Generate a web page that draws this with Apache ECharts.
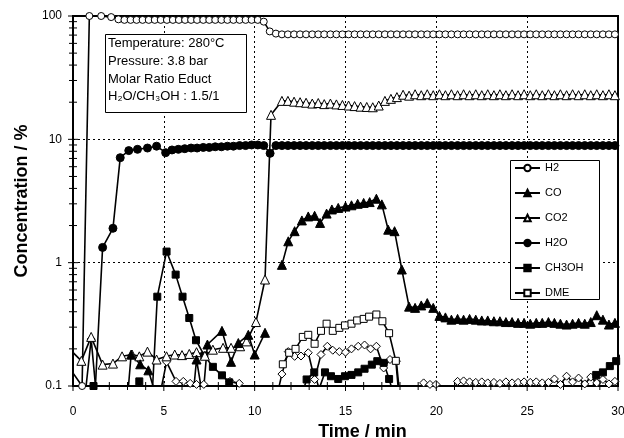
<!DOCTYPE html>
<html>
<head>
<meta charset="utf-8">
<script src="https://cdn.jsdelivr.net/npm/echarts@6/dist/echarts.min.js"></script>
<style>
  html, body { margin: 0; padding: 0; background: #fff; }
  #main { width: 624px; height: 438px; }
</style>
</head>
<body>
<div id="main"></div>
<script>
const FONT = '"Liberation Sans", Arial, sans-serif'

// legend names and the annotation text
const legendNames = ['H2', 'CO', 'CO2', 'H2O', 'CH3OH', 'DME']
const noteLines = ['Temperature: 280°C', 'Pressure: 3.8 bar', 'Molar Ratio Educt', 'H₂O/CH₃OH : 1.5/1']

// tick values
const xTicks = [0, 1, 2, 3, 4, 5, 6, 7, 8, 9, 10, 11, 12, 13, 14, 15, 16, 17, 18, 19, 20, 21, 22, 23, 24, 25, 26, 27, 28, 29, 30]
const yMajor = [0.1, 1, 10, 100]
const yMinor = [0.2, 0.3, 0.4, 0.5, 0.6, 0.7, 0.8, 0.9, 2, 3, 4, 5, 6, 7, 8, 9, 20, 30, 40, 50, 60, 70, 80, 90]

// sampling times of the steady part (min)
const tLate = [11.17, 11.5, 11.83, 12.17, 12.5, 12.83, 13.17, 13.5, 13.83, 14.17, 14.5, 14.83, 15.17, 15.5, 15.83,
  16.17, 16.5, 16.83, 17.17, 17.5, 17.83, 18.17, 18.5, 18.83, 19.17, 19.5, 19.83, 20.17, 20.5, 20.83, 21.17, 21.5,
  21.83, 22.17, 22.5, 22.83, 23.17, 23.5, 23.83, 24.17, 24.5, 24.83, 25.17, 25.5, 25.83, 26.17, 26.5, 26.83, 27.17,
  27.5, 27.83, 28.17, 28.5, 28.83, 29.17, 29.5, 29.83]

// [time, concentration]; values < 0.1 run off the bottom, null breaks the line
const h2Early = [[-0.2, 0.14], [0.5, 0.1], [0.9, 100], [1.55, 100], [2.1, 98], [2.5, 94], [2.83, 93], [3.17, 93],
  [3.5, 93], [3.83, 93], [4.17, 93], [4.5, 93], [4.83, 93], [5.17, 93], [5.5, 93], [5.83, 93], [6.17, 93], [6.5, 93],
  [6.83, 93], [7.17, 93], [7.5, 93], [7.83, 93], [8.17, 93], [8.5, 93], [8.83, 93], [9.17, 93], [9.5, 93], [9.83, 93],
  [10.17, 93], [10.5, 90], [10.83, 75]]
const h2Late = [72, 71, 71, 71, 71, 71, 71, 71, 71, 71, 71, 71, 71, 71, 71, 71, 71, 71, 71, 71, 71, 71, 71, 71, 71,
  71, 71, 71, 71, 71, 71, 71, 71, 71, 71, 71, 71, 71, 71, 71, 71, 71, 71, 71, 71, 71, 71, 71, 71, 71, 71, 71, 71, 71,
  71, 71, 71]

const h2oEarly = [[1.2, 0.08], [1.63, 1.33], [2.2, 1.9], [2.6, 7.1], [3.07, 8.1], [3.55, 8.3], [4.1, 8.5], [4.6, 8.8],
  [5.1, 7.8], [5.45, 8.2], [5.8, 8.3], [6.15, 8.4], [6.5, 8.5], [6.83, 8.5], [7.17, 8.6], [7.5, 8.6], [7.83, 8.7],
  [8.17, 8.7], [8.5, 8.8], [8.83, 8.8], [9.17, 8.9], [9.5, 8.9], [9.83, 9.0], [10.17, 9.0], [10.5, 8.9], [10.85, 7.7]]
const h2oLate = [8.9, 8.9, 8.9, 8.9, 8.9, 8.9, 8.9, 8.9, 8.9, 8.9, 8.9, 8.9, 8.9, 8.9, 8.9, 8.9, 8.9, 8.9, 8.9, 8.9,
  8.9, 8.9, 8.9, 8.9, 8.9, 8.9, 8.9, 8.9, 8.9, 8.9, 8.9, 8.9, 8.9, 8.9, 8.9, 8.9, 8.9, 8.9, 8.9, 8.9, 8.9, 8.9, 8.9,
  8.9, 8.9, 8.9, 8.9, 8.9, 8.9, 8.9, 8.9, 8.9, 8.9, 8.9, 8.9, 8.9, 8.9]

const co2Early = [[-0.2, 0.2], [0.46, 0.16], [1.0, 0.25], [1.63, 0.149], [2.2, 0.152], [2.7, 0.174], [3.25, 0.18],
  [3.65, 0.174], [4.1, 0.19], [4.6, 0.164], [5.15, 0.174], [5.6, 0.18], [6.0, 0.178], [6.4, 0.182], [6.8, 0.188],
  [7.26, 0.176], [7.7, 0.197], [8.26, 0.204], [8.7, 0.204], [9.2, 0.21], [9.55, 0.23], [10.07, 0.33], [10.57, 0.73],
  [10.9, 15.8]]
const co2Late = [20.5, 20.5, 20.2, 20, 19.8, 19.5, 19.7, 19.3, 19.5, 19.2, 19, 18.8, 18.6, 18.4, 18.3, 18.2, 18.8,
  20.5, 21.3, 22, 23, 22.6, 23.2, 22.8, 23.2, 22.8, 23.2, 22.8, 23.2, 22.8, 23.2, 22.8, 23.2, 22.8, 23.2, 22.8, 23.2,
  22.8, 23.2, 22.8, 23.2, 22.8, 23.2, 22.8, 23.2, 22.8, 23.2, 22.8, 23.2, 22.8, 23.2, 22.8, 23.2, 22.8, 23.2, 22.8]

const coEarly = [[3.0, 0.08], [3.2, 0.18], [3.7, 0.15], [4.15, 0.134], [4.6, 0.08], [5.5, null],
  [6.6, 0.08], [6.8, 0.164], [7.15, 0.08], [7.4, 0.217], [8.2, 0.28], [8.7, 0.157], [9.1, 0.223], [9.65, 0.26],
  [10.0, 0.18], [10.57, 0.27], [11.0, null],
  [11.5, 0.96], [11.85, 1.49], [12.2, 1.8], [12.6, 2.2], [12.95, 2.37], [13.3, 2.4], [13.6, 2.1], [13.96, 2.5],
  [14.25, 2.7], [14.6, 2.78], [15.0, 2.85], [15.33, 2.92], [15.67, 3.0], [16.0, 3.05], [16.33, 3.1], [16.7, 3.3],
  [17.0, 2.97], [17.35, 1.85], [17.7, 1.8], [18.1, 0.88], [18.5, 0.44], [18.83, 0.43], [19.17, 0.45], [19.5, 0.47],
  [19.83, 0.43]]
const coLate = [0.37, 0.36, 0.345, 0.35, 0.345, 0.35, 0.345, 0.34, 0.34, 0.335, 0.335, 0.33, 0.33, 0.325, 0.325, 0.32,
  0.325, 0.325, 0.33, 0.325, 0.32, 0.315, 0.32, 0.325, 0.32, 0.33, 0.375, 0.345, 0.315, 0.325]

const ch3oh = [[0.9, 0.08], [1.13, 0.1], [1.35, 0.08], [2, null],
  [3.4, 0.08], [3.65, 0.109], [3.9, 0.08], [4.1, null],
  [4.35, 0.08], [4.64, 0.53], [5.15, 1.23], [5.65, 0.8], [6.03, 0.53], [6.4, 0.356], [6.77, 0.235], [7.23, 0.176],
  [7.7, 0.143], [8.2, 0.122], [8.6, 0.107], [8.9, 0.08], [10, null],
  [12.55, 0.08], [12.86, 0.113], [13.28, 0.129], [13.55, 0.095], [13.87, 0.129], [14.2, 0.12], [14.6, 0.114],
  [14.97, 0.12], [15.33, 0.123], [15.7, 0.129], [16.05, 0.138], [16.45, 0.149], [16.75, 0.159], [17.1, 0.154],
  [17.4, 0.114], [17.7, 0.08], [20, null],
  [28.45, 0.08], [28.8, 0.123], [29.17, 0.129], [29.55, 0.145], [29.9, 0.159], [30.25, 0.19]]

const dme = [[11.55, 0.15], [11.9, 0.186], [12.25, 0.2], [12.65, 0.25], [12.95, 0.26], [13.3, 0.22], [13.65, 0.28],
  [13.96, 0.32], [14.3, 0.28], [14.66, 0.296], [14.97, 0.31], [15.33, 0.32], [15.64, 0.34], [16.0, 0.35],
  [16.3, 0.365], [16.7, 0.38], [17.03, 0.335], [17.4, 0.268], [17.77, 0.16], [17.95, 0.08]]

// open diamonds, not in the legend
const diaEarly = [[0.65, 0.08], [1.0, 0.24], [1.3, 0.08], [2, null],
  [4.75, 0.08], [5.15, 0.157], [5.67, 0.109], [6.07, 0.109], [6.45, 0.105], [6.8, 0.103], [7.2, 0.103], [7.45, 0.08],
  [8, null],
  [8.3, 0.08], [8.64, 0.109], [9.15, 0.105], [9.6, 0.08], [10, null],
  [11.2, 0.08], [11.5, 0.125], [11.85, 0.19], [12.2, 0.174], [12.55, 0.175], [12.95, 0.186], [13.3, 0.113],
  [13.65, 0.18], [14.0, 0.21], [14.3, 0.195], [14.66, 0.19], [15.0, 0.188], [15.33, 0.2], [15.7, 0.21],
  [16.05, 0.215], [16.38, 0.2], [16.7, 0.21], [17.1, 0.14], [17.45, 0.164], [17.8, 0.159], [18.0, 0.08], [18.5, null],
  [18.95, 0.08], [19.3, 0.106], [19.65, 0.103], [19.98, 0.103], [20.25, 0.08], [20.5, null],
  [20.85, 0.08]]
const diaLate = [0.109, 0.11, 0.108, 0.107, 0.108, 0.106, 0.107, 0.105, 0.108, 0.106, 0.107, 0.108, 0.107, 0.108,
  0.106, 0.107, 0.114, 0.103, 0.12, 0.108, 0.116, 0.104, 0.118, 0.106, 0.113, 0.104, 0.109]

const zip = (ts, vs) => vs.map((v, i) => [ts[i], v])

const h2 = h2Early.concat(zip(tLate, h2Late))
const h2o = h2oEarly.concat(zip(tLate, h2oLate))
const co2 = co2Early.concat(zip(tLate.slice(1), co2Late))
const co = coEarly.concat(zip(tLate.slice(27), coLate))
const diamond = diaEarly.concat(zip(tLate.slice(30), diaLate))

function lineSeries(name, data, symbol, size, filled) {
  return {
    name: name,
    type: 'line',
    data: data,
    symbol: symbol,
    symbolSize: size,
    connectNulls: false,
    lineStyle: { color: '#000', width: 1.6 },
    itemStyle: { color: filled ? '#000' : '#fff', borderColor: '#000', borderWidth: 1 },
    emphasis: { disabled: true }
  }
}

// crossing tick marks on both axes
let tickData = []
yMajor.forEach(v => tickData.push([0, v, 0, 5]))
yMinor.forEach(v => tickData.push([0, v, 0, 4]))
xTicks.forEach(v => tickData.push([v, 0.1, 1, v % 5 === 0 ? 5 : 4]))

const myChart = echarts.init(document.getElementById('main'))
let option = {
  animation: false,
  textStyle: { fontFamily: FONT },
  grid: {
    left: 73, right: 6, top: 16, bottom: 52,
    outerBoundsMode: 'none',
    show: true, borderColor: '#000', borderWidth: 2
  },
  legend: {
    data: legendNames,
    orient: 'vertical',
    left: 514,
    top: 162,
    padding: 0,
    itemWidth: 25,
    itemHeight: 8,
    itemGap: 13,
    textStyle: { fontSize: 11, color: '#000', lineHeight: 12, fontFamily: FONT },
    z: 20
  },
  xAxis: {
    type: 'value',
    min: 0,
    max: 30,
    interval: 5,
    axisLine: { lineStyle: { color: '#000', width: 2 } },
    axisTick: { show: false },
    axisLabel: { color: '#000', fontSize: 12, margin: 20, fontFamily: FONT },
    splitLine: { show: true, lineStyle: { color: '#000', width: 1, type: [2, 3] } },
    name: 'Time / min',
    nameLocation: 'middle',
    nameGap: 36,
    nameTextStyle: { fontSize: 18, fontWeight: 'bold', color: '#000', fontFamily: FONT, padding: [0, 0, 0, 34] }
  },
  yAxis: {
    type: 'log',
    logBase: 10,
    min: 0.1,
    max: 100,
    axisLine: { lineStyle: { color: '#000', width: 2 } },
    axisTick: { show: false },
    axisLabel: { color: '#000', fontSize: 12, margin: 11, fontFamily: FONT },
    splitLine: { show: true, lineStyle: { color: '#000', width: 1, type: [2, 3] } },
    name: 'Concentration / %',
    nameLocation: 'middle',
    nameRotate: 90,
    nameGap: 42,
    nameTextStyle: { fontSize: 18, fontWeight: 'bold', color: '#000', fontFamily: FONT }
  },
  graphic: [
    {
      type: 'rect',
      shape: { x: 105.5, y: 34.5, width: 141, height: 78 },
      style: { fill: '#fff', stroke: '#000', lineWidth: 1 },
      z: 10
    },
    ...noteLines.map((s, i) => ({
      type: 'text',
      x: 108,
      y: 43.5 + i * 17.8,
      style: { text: s, font: '13px ' + FONT, fill: '#000', verticalAlign: 'middle' },
      z: 11
    })),
    {
      type: 'rect',
      shape: { x: 510.5, y: 160.5, width: 89, height: 139 },
      style: { fill: '#fff', stroke: '#000', lineWidth: 1 },
      z: 10
    }
  ],
  series: [
    lineSeries('diamond', diamond, 'diamond', 8, false),
    lineSeries('DME', dme, 'rect', 7, false),
    lineSeries('CH3OH', ch3oh, 'rect', 7, true),
    lineSeries('H2O', h2o, 'circle', 8, true),
    lineSeries('CO2', co2, 'triangle', 9, false),
    lineSeries('CO', co, 'triangle', 9, true),
    lineSeries('H2', h2, 'circle', 7, false),
    {
      type: 'custom',
      silent: true,
      data: tickData,
      encode: { x: 0, y: 1 },
      z: 5,
      renderItem: function (params, api) {
        const p = api.coord([api.value(0), api.value(1)])
        const len = api.value(3)
        const shape = api.value(2) === 0
          ? { x1: p[0] - len, y1: p[1], x2: p[0] + len, y2: p[1] }
          : { x1: p[0], y1: p[1] - len, x2: p[0], y2: p[1] + len }
        return { type: 'line', shape: shape, style: { stroke: '#000', lineWidth: 1 } }
      }
    }
  ]
}
myChart.setOption(option)
</script>
</body>
</html>
